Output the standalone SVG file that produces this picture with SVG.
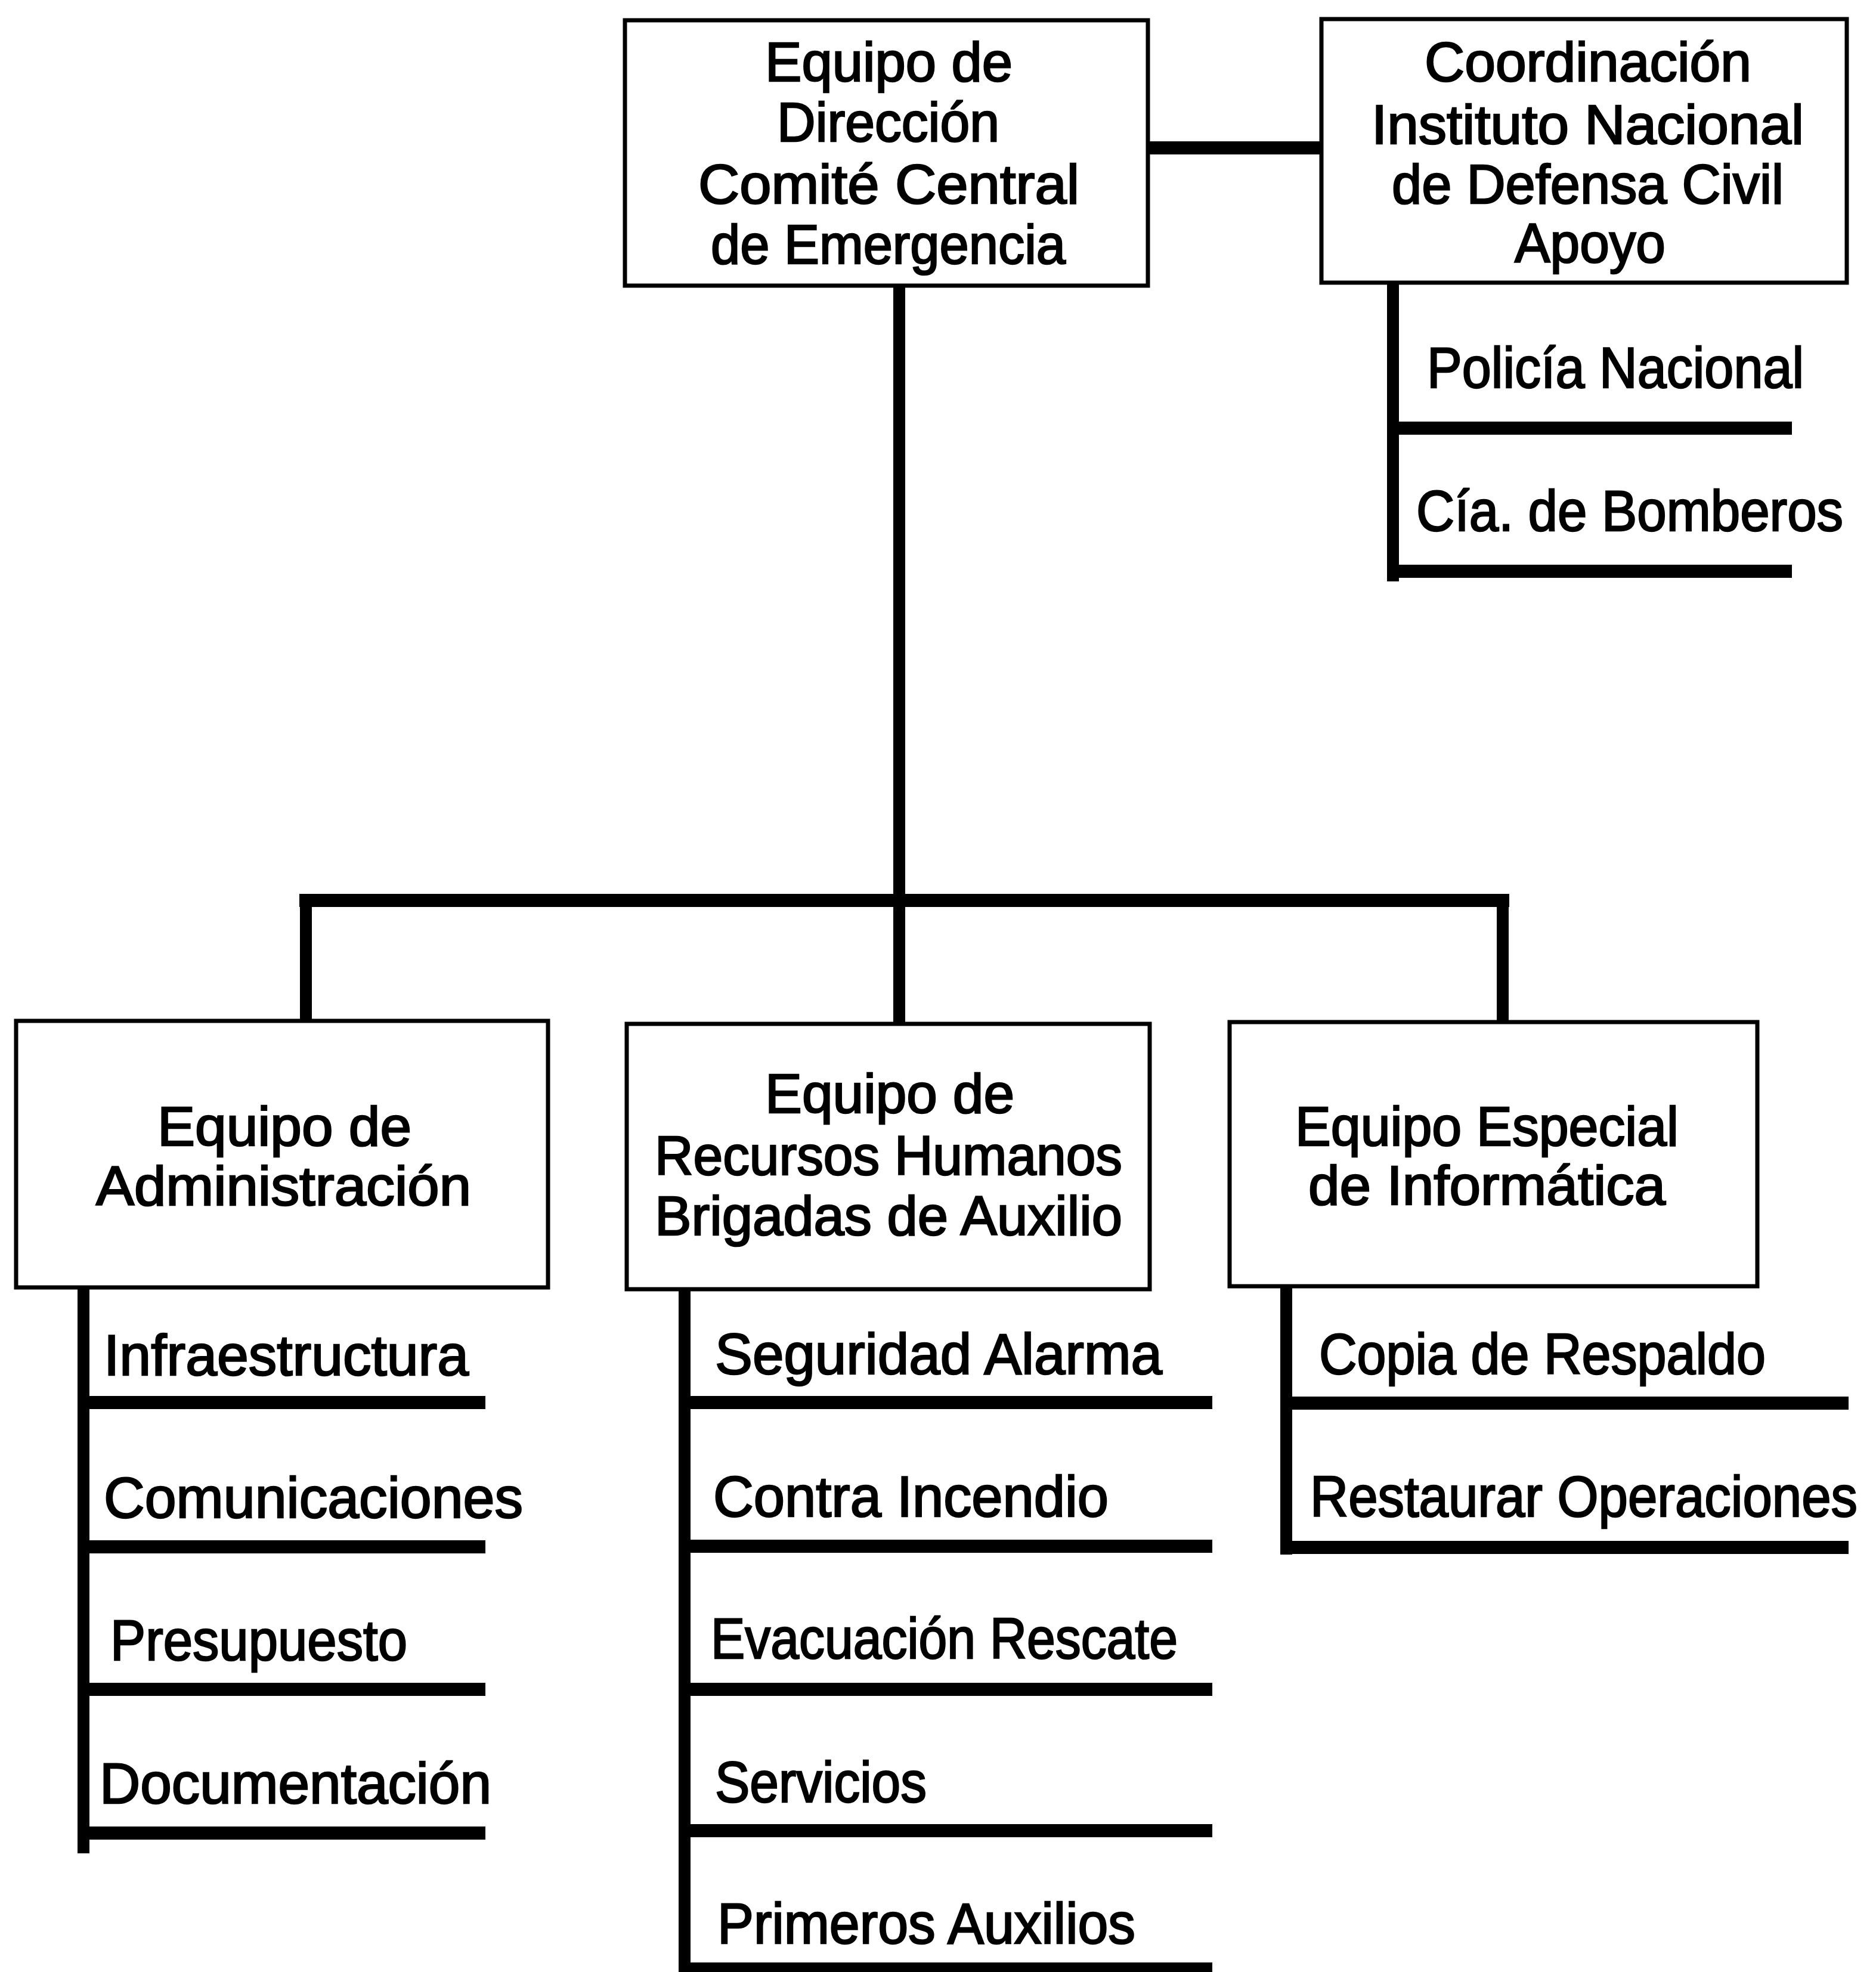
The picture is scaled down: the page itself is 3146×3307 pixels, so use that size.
<svg xmlns="http://www.w3.org/2000/svg" width="3146" height="3307" viewBox="0 0 3146 3307">
  <style>
    .box { fill: #ffffff; stroke: #000000; stroke-width: 7; }
    .t { font-family: "Liberation Sans", Arial, sans-serif; font-size: 92px; fill: #000000; stroke: #000000; stroke-width: 2.5; }
    .li { font-family: "Liberation Sans", Arial, sans-serif; font-size: 96px; fill: #000000; stroke: #000000; stroke-width: 2.5; }
    .bar { stroke: #000000; stroke-width: 22; fill: none; stroke-linecap: butt; }
    .stem { stroke: #000000; stroke-width: 20; fill: none; stroke-linecap: butt; }
  </style>
  <rect width="3146" height="3307" fill="#ffffff"/>

  <!-- connectors -->
  <g id="connectors">
    <!-- direction to coordination -->
    <line class="bar" x1="1910" y1="248" x2="2240" y2="248"/>
    <!-- main trunk and bus -->
    <line class="stem" x1="1508" y1="479" x2="1508" y2="1733"/>
    <line class="bar" x1="502" y1="1510" x2="2531" y2="1510"/>
    <line class="stem" x1="513" y1="1499" x2="513" y2="1734"/>
    <line class="stem" x1="2520" y1="1499" x2="2520" y2="1733"/>
    <!-- coordination support list -->
    <line class="stem" x1="2336" y1="474" x2="2336" y2="975"/>
    <line class="bar" x1="2326" y1="718" x2="3005" y2="718"/>
    <line class="bar" x1="2326" y1="958" x2="3005" y2="958"/>
    <!-- administration list -->
    <line class="stem" x1="140" y1="2157" x2="140" y2="3108"/>
    <line class="bar" x1="130" y1="2352" x2="814" y2="2352"/>
    <line class="bar" x1="130" y1="2594" x2="814" y2="2594"/>
    <line class="bar" x1="130" y1="2833" x2="814" y2="2833"/>
    <line class="bar" x1="130" y1="3074" x2="814" y2="3074"/>
    <!-- human resources list -->
    <line class="stem" x1="1148" y1="2161" x2="1148" y2="3307"/>
    <line class="bar" x1="1138" y1="2352" x2="2033" y2="2352"/>
    <line class="bar" x1="1138" y1="2593" x2="2033" y2="2593"/>
    <line class="bar" x1="1138" y1="2833" x2="2033" y2="2833"/>
    <line class="bar" x1="1138" y1="3070" x2="2033" y2="3070"/>
    <line class="bar" x1="1138" y1="3302" x2="2033" y2="3302"/>
    <!-- informatics list -->
    <line class="stem" x1="2157" y1="2157" x2="2157" y2="2607"/>
    <line class="bar" x1="2147" y1="2353" x2="3100" y2="2353"/>
    <line class="bar" x1="2147" y1="2595" x2="3100" y2="2595"/>
  </g>

  <g id="direccion">
    <rect class="box" x="1048" y="34" width="877" height="445"/>
    <text class="t" x="1283" y="136" textLength="415" lengthAdjust="spacingAndGlyphs">Equipo de</text>
    <text class="t" x="1303" y="237" textLength="373" lengthAdjust="spacingAndGlyphs">Dirección</text>
    <text class="t" x="1171" y="341" textLength="639" lengthAdjust="spacingAndGlyphs">Comité Central</text>
    <text class="t" x="1192" y="442" textLength="595" lengthAdjust="spacingAndGlyphs">de Emergencia</text>
  </g>

  <g id="coordinacion">
    <rect class="box" x="2216" y="32" width="881" height="442"/>
    <text class="t" x="2389" y="136" textLength="548" lengthAdjust="spacingAndGlyphs">Coordinación</text>
    <text class="t" x="2300" y="241" textLength="725" lengthAdjust="spacingAndGlyphs">Instituto Nacional</text>
    <text class="t" x="2334" y="341" textLength="657" lengthAdjust="spacingAndGlyphs">de Defensa Civil</text>
    <text class="t" x="2540" y="440" textLength="253" lengthAdjust="spacingAndGlyphs">Apoyo</text>
  </g>

  <g id="policia"><text class="li" x="2393" y="650" textLength="632" lengthAdjust="spacingAndGlyphs">Policía Nacional</text></g>
  <g id="bomberos"><text class="li" x="2375" y="890" textLength="716" lengthAdjust="spacingAndGlyphs">Cía. de Bomberos</text></g>

  <g id="administracion">
    <rect class="box" x="27" y="1712" width="892" height="447"/>
    <text class="t" x="264" y="1921" textLength="426" lengthAdjust="spacingAndGlyphs">Equipo de</text>
    <text class="t" x="161" y="2021" textLength="629" lengthAdjust="spacingAndGlyphs">Administración</text>
  </g>

  <g id="recursos-humanos">
    <rect class="box" x="1051" y="1717" width="877" height="445"/>
    <text class="t" x="1283" y="1866" textLength="418" lengthAdjust="spacingAndGlyphs">Equipo de</text>
    <text class="t" x="1098" y="1970" textLength="784" lengthAdjust="spacingAndGlyphs">Recursos Humanos</text>
    <text class="t" x="1098" y="2071" textLength="784" lengthAdjust="spacingAndGlyphs">Brigadas de Auxilio</text>
  </g>

  <g id="informatica">
    <rect class="box" x="2062" y="1714" width="885" height="443"/>
    <text class="t" x="2172" y="1921" textLength="643" lengthAdjust="spacingAndGlyphs">Equipo Especial</text>
    <text class="t" x="2194" y="2020" textLength="599" lengthAdjust="spacingAndGlyphs">de Informática</text>
  </g>

  <g id="infraestructura"><text class="li" x="174" y="2306" textLength="612" lengthAdjust="spacingAndGlyphs">Infraestructura</text></g>
  <g id="comunicaciones"><text class="li" x="174" y="2545" textLength="703" lengthAdjust="spacingAndGlyphs">Comunicaciones</text></g>
  <g id="presupuesto"><text class="li" x="185" y="2784" textLength="498" lengthAdjust="spacingAndGlyphs">Presupuesto</text></g>
  <g id="documentacion"><text class="li" x="167" y="3024" textLength="657" lengthAdjust="spacingAndGlyphs">Documentación</text></g>

  <g id="seguridad"><text class="li" x="1199" y="2304" textLength="750" lengthAdjust="spacingAndGlyphs">Seguridad Alarma</text></g>
  <g id="incendio"><text class="li" x="1196" y="2543" textLength="663" lengthAdjust="spacingAndGlyphs">Contra Incendio</text></g>
  <g id="evacuacion"><text class="li" x="1192" y="2781" textLength="783" lengthAdjust="spacingAndGlyphs">Evacuación Rescate</text></g>
  <g id="servicios"><text class="li" x="1199" y="3022" textLength="355" lengthAdjust="spacingAndGlyphs">Servicios</text></g>
  <g id="primeros-auxilios"><text class="li" x="1203" y="3259" textLength="701" lengthAdjust="spacingAndGlyphs">Primeros Auxilios</text></g>

  <g id="copia"><text class="li" x="2212" y="2304" textLength="749" lengthAdjust="spacingAndGlyphs">Copia de Respaldo</text></g>
  <g id="restaurar"><text class="li" x="2197" y="2543" textLength="918" lengthAdjust="spacingAndGlyphs">Restaurar Operaciones</text></g>
</svg>
